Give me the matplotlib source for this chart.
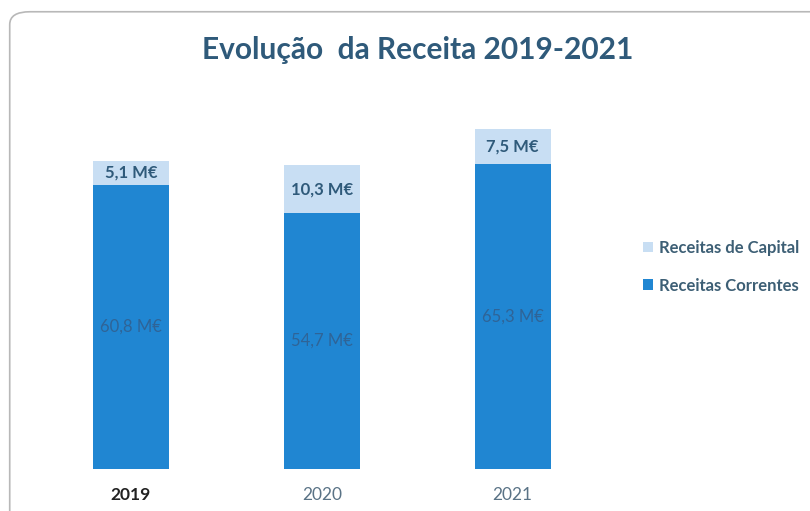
import matplotlib.pyplot as plt
from matplotlib.patches import FancyBboxPatch

# Dados (milhões de euros)
anos = ['2019', '2020', '2021']
receitas_correntes = [60.8, 54.7, 65.3]
receitas_capital = [5.1, 10.3, 7.5]

cor_correntes = '#2086d2'
cor_capital = '#c8def3'
cor_texto = '#2f5a7a'

plt.rcParams['font.family'] = ['Lato', 'DejaVu Sans']

fig = plt.figure(figsize=(8.1, 5.11), dpi=100)

# moldura arredondada
moldura = FancyBboxPatch((0.012, -0.05), 1.2, 1.027, boxstyle='round,pad=0,rounding_size=0.025',
                         transform=fig.transFigure, facecolor='none', edgecolor='#b8b8b8',
                         lw=1.2, zorder=0)
fig.patches.append(moldura)

ax = fig.add_axes([0.0438, 0.0822, 0.707, 0.732])
ax.set_facecolor('none')

x = range(len(anos))
b1 = ax.bar(x, receitas_correntes, width=0.4, color=cor_correntes, label='Receitas Correntes')
b2 = ax.bar(x, receitas_capital, width=0.4, bottom=receitas_correntes, color=cor_capital,
            label='Receitas de Capital')

for i in x:
    ax.text(i, receitas_correntes[i] / 2, f'{receitas_correntes[i]:.1f} M€'.replace('.', ','),
            ha='center', va='center', fontsize=12, color='#2f6497')
    ax.text(i, receitas_correntes[i] + receitas_capital[i] / 2,
            f'{receitas_capital[i]:.1f} M€'.replace('.', ','),
            ha='center', va='center', fontsize=12, fontweight='bold', color=cor_texto)

ax.set_xlim(-0.5, 2.5)
ax.set_ylim(0, 80)
ax.set_xticks(list(x))
ax.set_xticklabels(anos, fontsize=12.5)
for lbl, c, w in zip(ax.get_xticklabels(), ['#222222', '#5a7386', '#5a7386'], ['bold', 'normal', 'normal']):
    lbl.set_color(c)
    lbl.set_fontweight(w)
ax.tick_params(axis='x', length=0, pad=13)
ax.set_yticks([])
for s in ax.spines.values():
    s.set_visible(False)

fig.text(0.516, 0.903, 'Evolução  da Receita 2019-2021', ha='center', va='center',
         fontsize=21.5, fontweight='bold', color=cor_texto)

leg = fig.legend(handles=[b2, b1], loc='center left', bbox_to_anchor=(0.775, 0.478),
                 frameon=False, handlelength=0.6, handleheight=0.6, handletextpad=0.35,
                 labelspacing=1.3, prop={'size': 12, 'weight': 'bold'})
for t in leg.get_texts():
    t.set_color('#3d5f75')

fig.savefig('out.png', dpi=100)
